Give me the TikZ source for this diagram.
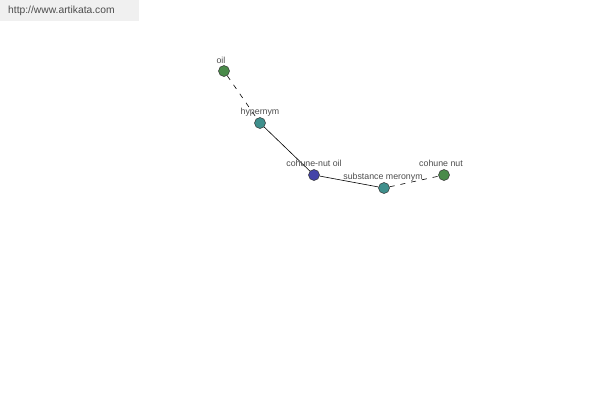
\documentclass[tikz,border=0pt]{standalone}
\usepackage{fontspec}
\setmainfont{Liberation Sans}
\begin{document}
\begin{tikzpicture}[x=1pt,y=-1pt,
  dot/.style={circle,draw=black!80,line width=0.5pt,minimum size=11pt,inner sep=0pt},
  lbl/.style={font=\fontsize{8.8}{9}\selectfont,text=black!70,inner sep=0pt},
  edge/.style={draw=black,line width=0.6pt},
  dashedge/.style={draw=black,line width=0.6pt,dash pattern=on 5pt off 6pt}]
\useasboundingbox (0,0) rectangle (600,400);
\fill[black!6] (0,0) rectangle (139,21);
\node[font=\fontsize{10.3}{11}\selectfont,text=black!70,anchor=west,inner sep=0pt] (url) at (8,11) {http://www.artikata.com};
\definecolor{gn}{HTML}{4A8A4A}
\definecolor{tl}{HTML}{3F8F8C}
\definecolor{bl}{HTML}{4444A8}
\node[dot,fill=gn] (oil) at (224,71) {};
\node[dot,fill=tl] (hyp) at (260,123) {};
\node[dot,fill=bl] (cno) at (314,175) {};
\node[dot,fill=tl] (sub) at (384,188) {};
\node[dot,fill=gn] (cn) at (444,175) {};
\draw[dashedge] (oil) -- (hyp);
\draw[edge] (hyp) -- (cno);
\draw[edge] (cno) -- (sub);
\draw[dashedge] (sub) -- (cn);
\node[lbl] (loil) at (221,60) {oil};
\node[lbl] (lhyp) at (260,112) {hypernym};
\node[lbl] (lcno) at (314,163) {cohune-nut oil};
\node[lbl] (lsub) at (383,177) {substance meronym};
\node[lbl] (lcn) at (441,163) {cohune nut};
\end{tikzpicture}
\end{document}
